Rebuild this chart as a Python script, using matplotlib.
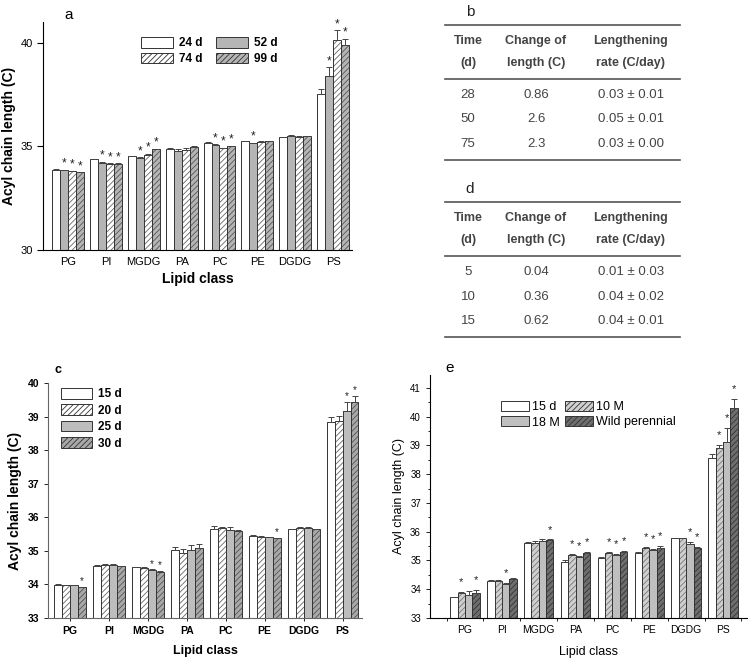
import numpy as np
import matplotlib
matplotlib.use("Agg")
import matplotlib.pyplot as plt
from matplotlib.patches import Patch

plt.rcParams['font.family'] = ['Liberation Sans', 'DejaVu Sans']
plt.rcParams['hatch.linewidth'] = 0.6

W, H = 751, 659

lipids = ['PG', 'PI', 'MGDG', 'PA', 'PC', 'PE', 'DGDG', 'PS']

# panel a
a_labels = ['24 d', '52 d', '74 d', '99 d']
a_24 = [33.88, 34.37, 34.53, 34.85, 35.18, 35.25, 35.44, 37.54]
a_52 = [33.85, 34.22, 34.45, 34.80, 35.06, 35.15, 35.49, 38.41]
a_74 = [33.80, 34.16, 34.60, 34.82, 34.90, 35.23, 35.46, 40.14]
a_99 = [33.74, 34.16, 34.85, 34.96, 35.00, 35.25, 35.49, 39.87]
a_24e = [0.02, 0.02, 0.02, 0.06, 0.03, 0.02, 0.02, 0.24]
a_52e = [0.02, 0.03, 0.03, 0.05, 0.03, 0.03, 0.04, 0.40]
a_74e = [0.02, 0.02, 0.05, 0.08, 0.03, 0.02, 0.02, 0.45]
a_99e = [0.02, 0.02, 0.04, 0.06, 0.03, 0.02, 0.03, 0.33]
a_24s = [0, 0, 0, 0, 0, 0, 0, 0]
a_52s = [1, 1, 1, 0, 1, 1, 0, 1]
a_74s = [1, 1, 1, 0, 1, 0, 0, 1]
a_99s = [1, 1, 1, 0, 1, 0, 0, 1]

# panel c
c_labels = ['15 d', '20 d', '25 d', '30 d']
c_15 = [33.99, 34.55, 34.51, 35.03, 35.66, 35.43, 35.65, 38.83]
c_20 = [33.98, 34.58, 34.49, 34.95, 35.68, 35.42, 35.68, 38.86]
c_25 = [33.97, 34.58, 34.43, 35.03, 35.63, 35.41, 35.68, 39.18]
c_30 = [33.92, 34.55, 34.38, 35.08, 35.60, 35.37, 35.65, 39.43]
c_15e = [0.01, 0.02, 0.02, 0.08, 0.07, 0.03, 0.01, 0.15]
c_20e = [0.01, 0.02, 0.02, 0.10, 0.03, 0.01, 0.02, 0.15]
c_25e = [0.01, 0.02, 0.02, 0.13, 0.07, 0.01, 0.02, 0.25]
c_30e = [0.01, 0.01, 0.03, 0.11, 0.02, 0.02, 0.01, 0.18]
c_15s = [0, 0, 0, 0, 0, 0, 0, 0]
c_20s = [0, 0, 0, 0, 0, 0, 0, 0]
c_25s = [0, 0, 1, 0, 0, 0, 0, 1]
c_30s = [1, 0, 1, 0, 0, 1, 0, 1]

# panel e
e_labels = ['15 d', '10 M', '18 M', 'Wild perennial']
e_15d = [33.72, 34.30, 35.62, 34.96, 35.10, 35.27, 35.77, 38.55]
e_10M = [33.86, 34.30, 35.62, 35.20, 35.27, 35.44, 35.77, 38.90]
e_18M = [33.81, 34.19, 35.69, 35.13, 35.20, 35.38, 35.58, 39.12]
e_WP = [33.88, 34.34, 35.70, 35.25, 35.28, 35.45, 35.43, 40.30]
e_15de = [0.02, 0.02, 0.02, 0.04, 0.01, 0.01, 0.02, 0.16]
e_10Me = [0.06, 0.03, 0.05, 0.03, 0.03, 0.02, 0.02, 0.12]
e_18Me = [0.12, 0.02, 0.04, 0.03, 0.03, 0.03, 0.08, 0.50]
e_WPe = [0.10, 0.06, 0.03, 0.04, 0.05, 0.07, 0.05, 0.30]
e_15ds = [0, 0, 0, 0, 0, 0, 0, 0]
e_10Ms = [1, 0, 0, 1, 1, 1, 0, 1]
e_18Ms = [0, 1, 0, 1, 1, 1, 1, 1]
e_WPs = [1, 0, 1, 1, 1, 1, 1, 1]

# tables b and d
tbl_header = [['Time', '(d)'], ['Change of', 'length (C)'], ['Lengthening', 'rate (C/day)']]
b_time = ['28', '50', '75']
b_change = ['0.86', '2.6', '2.3']
b_rate = ['0.03 \u00b1 0.01', '0.05 \u00b1 0.01', '0.03 \u00b1 0.00']
d_time = ['5', '10', '15']
d_change = ['0.04', '0.36', '0.62']
d_rate = ['0.01 \u00b1 0.03', '0.04 \u00b1 0.02', '0.04 \u00b1 0.01']


def rect(l, t, r, b):
    return [l / W, 1 - b / H, (r - l) / W, (b - t) / H]


def grouped(ax, series, errs, stars, styles, width, star_off, star_size, capsize):
    x = np.arange(len(lipids))
    n = len(series)
    bw = width / n
    base = ax.get_ylim()[0]
    for i in range(n):
        xs = x - width / 2 + bw * (i + 0.5)
        fc, hatch, hc = styles[i]
        ax.bar(xs, np.array(series[i]) - base, bw, bottom=base,
               color=fc, edgecolor=hc, hatch=hatch, linewidth=0)
        ax.bar(xs, np.array(series[i]) - base, bw, bottom=base,
               color='none', edgecolor='#333333', linewidth=0.7)
        ax.errorbar(xs, series[i], yerr=[np.zeros(len(x)), errs[i]], fmt='none',
                    ecolor='#444444', elinewidth=0.7, capsize=capsize, capthick=0.7)
        for j in range(len(x)):
            if stars[i][j]:
                ax.text(xs[j], series[i][j] + errs[i][j] + star_off, '*', ha='center',
                        va='bottom', fontsize=star_size, color='#222222')


fig = plt.figure(figsize=(W / 100, H / 100), dpi=100)

# ---------- panel a ----------
axa = fig.add_axes(rect(43, 22, 352, 250))
axa.set_ylim(30, 41)
axa.set_xlim(-0.66, 7.5)
a_styles = [('white', None, '#333333'), ('#b5b5b5', None, '#333333'),
            ('white', '//////', '#666666'), ('#b5b5b5', '//////', '#555555')]
grouped(axa, [a_24, a_52, a_74, a_99], [a_24e, a_52e, a_74e, a_99e],
        [a_24s, a_52s, a_74s, a_99s], a_styles, 0.84, 0.0, 8.5, 2)
axa.set_yticks([30, 35, 40])
axa.set_xticks(range(len(lipids)))
axa.set_xticklabels(lipids, fontsize=8)
axa.tick_params(axis='x', length=0, pad=5)
axa.tick_params(axis='y', labelsize=8, length=4, width=0.8)
for s in ['top', 'right']:
    axa.spines[s].set_visible(False)
axa.set_ylabel('Acyl chain length (C)', fontsize=10, fontweight='bold', labelpad=3)
axa.set_xlabel('Lipid class', fontsize=10, fontweight='bold', labelpad=4)
axa.text(0.07, 1.0, 'a', transform=axa.transAxes, fontsize=11, ha='left', va='bottom')
ha = [Patch(facecolor=fc, edgecolor='#333333', hatch=h, linewidth=0.7) for fc, h, hc in a_styles]
axa.legend([ha[0], ha[2], ha[1], ha[3]], [a_labels[0], a_labels[2], a_labels[1], a_labels[3]],
           ncol=2, frameon=False, loc='upper left', bbox_to_anchor=(141 / W, 1 - 37 / H),
           bbox_transform=fig.transFigure, borderpad=0, borderaxespad=0,
           handlelength=2.7, handleheight=1.0, columnspacing=1.2, labelspacing=0.3,
           handletextpad=0.5, prop={'weight': 'bold', 'size': 8.5})

# ---------- panel c ----------
axc = fig.add_axes(rect(48, 383, 362, 618))
axc.set_ylim(33, 40)
axc.set_xlim(-0.57, 7.5)
c_styles = [('white', None, '#333333'), ('white', '//////', '#666666'),
            ('#bdbdbd', None, '#333333'), ('#a8a8a8', '//////', '#555555')]
grouped(axc, [c_15, c_20, c_25, c_30], [c_15e, c_20e, c_25e, c_30e],
        [c_15s, c_20s, c_25s, c_30s], c_styles, 0.82, 0.02, 7, 2)
axc.set_yticks(range(33, 41))
axc.set_xticks(range(len(lipids)))
axc.set_xticklabels(lipids, fontsize=7.5, fontweight='bold')
for lbl in axc.get_yticklabels():
    lbl.set_fontweight('bold')
axc.tick_params(axis='x', length=2, width=0.6, pad=4)
axc.tick_params(axis='y', labelsize=7.5, length=3, width=0.6)
for s in ['top', 'right']:
    axc.spines[s].set_visible(False)
for s in ['left', 'bottom']:
    axc.spines[s].set_color('#666666')
axc.set_ylabel('Acyl chain length (C)', fontsize=10, fontweight='bold', labelpad=4)
axc.set_xlabel('Lipid class', fontsize=9, fontweight='bold', labelpad=6)
axc.text(0.02, 1.03, 'c', transform=axc.transAxes, fontsize=9, fontweight='bold', ha='left', va='bottom')
hc_ = [Patch(facecolor=fc, edgecolor='#333333', hatch=h, linewidth=0.7) for fc, h, hc in c_styles]
axc.legend(hc_, c_labels, ncol=1, frameon=False, loc='upper left',
           bbox_to_anchor=(61 / W, 1 - 388 / H), bbox_transform=fig.transFigure,
           borderpad=0, borderaxespad=0, handlelength=2.6, handleheight=1.0,
           labelspacing=0.35, handletextpad=0.5, prop={'weight': 'bold', 'size': 8.5})

# ---------- panel e ----------
axe = fig.add_axes(rect(430, 375, 747, 618))
axe.set_ylim(33, 41.45)
axe.set_xlim(-0.95, 7.65)
e_styles = [('white', None, '#333333'), ('#cfcfcf', '//////', '#777777'),
            ('#bfbfbf', None, '#333333'), ('#6e6e6e', '//////', '#333333')]
grouped(axe, [e_15d, e_10M, e_18M, e_WP], [e_15de, e_10Me, e_18Me, e_WPe],
        [e_15ds, e_10Ms, e_18Ms, e_WPs], e_styles, 0.8, 0.17, 8, 2)
axe.set_yticks(range(33, 42))
axe.set_yticks(np.arange(33.5, 41.5, 1), minor=True)
axe.set_xticks(range(len(lipids)))
axe.set_xticks(np.arange(-0.5, 8, 1), minor=True)
axe.set_xticklabels(lipids, fontsize=7.5)
axe.tick_params(axis='x', which='major', length=0, pad=5)
axe.tick_params(axis='x', which='minor', length=2, width=0.6)
axe.tick_params(axis='y', which='major', labelsize=7, length=3, width=0.6)
axe.tick_params(axis='y', which='minor', length=1.5, width=0.6)
for s in ['top', 'right']:
    axe.spines[s].set_visible(False)
axe.set_ylabel('Acyl chain length (C)', fontsize=9, labelpad=4)
axe.set_xlabel('Lipid class', fontsize=9, labelpad=8)
axe.text(0.05, 1.0, 'e', transform=axe.transAxes, fontsize=11, ha='left', va='bottom')
he = [Patch(facecolor=fc, edgecolor='#333333', hatch=h, linewidth=0.7) for fc, h, hc in e_styles]
axe.legend([he[0], he[2], he[1], he[3]], [e_labels[0], e_labels[2], e_labels[1], e_labels[3]],
           ncol=2, frameon=False, loc='upper left', bbox_to_anchor=(501 / W, 1 - 401 / H),
           bbox_transform=fig.transFigure, borderpad=0, borderaxespad=0,
           handlelength=2.2, handleheight=0.9, columnspacing=0.4, labelspacing=0.2,
           handletextpad=0.3, prop={'size': 9})

# ---------- tables b and d ----------
ov = fig.add_axes([0, 0, 1, 1])
ov.set_xlim(0, W)
ov.set_ylim(H, 0)
ov.axis('off')
col_x = [468, 536, 631]


def table(top, letter, cols):
    ov.text(470, top - 13, letter, fontsize=11, ha='center', va='center', color='#222222')
    ov.plot([445, 680], [top, top], color='#555555', lw=1.2)
    for cx, hd in zip(col_x, tbl_header):
        ov.text(cx, top + 16, hd[0], fontsize=9, fontweight='bold', ha='center', va='center', color='#444444')
        ov.text(cx, top + 38, hd[1], fontsize=9, fontweight='bold', ha='center', va='center', color='#444444')
    ov.plot([445, 680], [top + 54, top + 54], color='#555555', lw=1.2)
    for k in range(3):
        for cx, col in zip(col_x, cols):
            ov.text(cx, top + 70 + 24.5 * k, col[k], fontsize=9.5, ha='center', va='center', color='#444444')
    ov.plot([445, 680], [top + 135, top + 135], color='#555555', lw=1.2)


table(25, 'b', [b_time, b_change, b_rate])
table(202, 'd', [d_time, d_change, d_rate])

fig.savefig('out.png', dpi=100)
